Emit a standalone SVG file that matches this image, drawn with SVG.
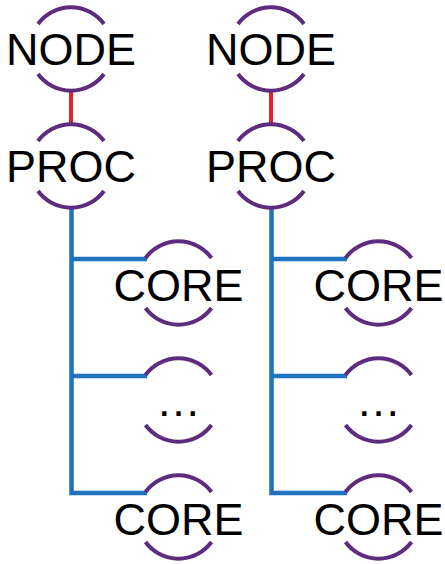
<svg xmlns="http://www.w3.org/2000/svg" width="445" height="564" viewBox="0 0 445 564">
  <defs>
    <!-- open ring: two arcs around a label, centred on 0,0 -->
    <g id="ring">
      <path d="M -33 -25 A 41 41 0 0 1 33 -25" />
      <path d="M -33 25 A 41 41 0 0 0 33 25" />
    </g>
  </defs>
  <style>
    .ring { fill: none; stroke: #5e2b7e; stroke-width: 4; }
    .lbl { font-family: "Liberation Sans", Arial, sans-serif; font-size: 45px; fill: #000; text-anchor: middle; }
    .link-red { stroke: #e8202a; stroke-width: 4; fill: none; }
    .link-blue { stroke: #1f72bd; stroke-width: 4.5; fill: none; stroke-linejoin: miter; }
  </style>
  <rect width="445" height="564" fill="#fff" />

  <g id="connectors">
    <line class="link-red" x1="71" y1="90" x2="71" y2="125" />
    <line class="link-red" x1="271" y1="90" x2="271" y2="125" />
    <path class="link-blue" d="M 71.5 207 V 493 H 147 M 71.5 259 H 147 M 71.5 376 H 147" />
    <path class="link-blue" d="M 271.5 207 V 493 H 347 M 271.5 259 H 347 M 271.5 376 H 347" />
  </g>

  <g id="node-a">
    <use href="#ring" class="ring" x="71" y="49" />
    <text class="lbl" x="71" y="65">NODE</text>
  </g>
  <g id="proc-a">
    <use href="#ring" class="ring" x="71" y="166" />
    <text class="lbl" x="71" y="182">PROC</text>
  </g>
  <g id="core-a1">
    <use href="#ring" class="ring" x="178.5" y="283" />
    <text class="lbl" x="178.5" y="301">CORE</text>
  </g>
  <g id="core-a2">
    <use href="#ring" class="ring" x="178.5" y="400" />
    <text class="lbl" x="178.5" y="416">…</text>
  </g>
  <g id="core-a3">
    <use href="#ring" class="ring" x="178.5" y="517" />
    <text class="lbl" x="178.5" y="535">CORE</text>
  </g>

  <g id="node-b">
    <use href="#ring" class="ring" x="271" y="49" />
    <text class="lbl" x="271" y="65">NODE</text>
  </g>
  <g id="proc-b">
    <use href="#ring" class="ring" x="271" y="166" />
    <text class="lbl" x="271" y="182">PROC</text>
  </g>
  <g id="core-b1">
    <use href="#ring" class="ring" x="378.5" y="283" />
    <text class="lbl" x="378.5" y="301">CORE</text>
  </g>
  <g id="core-b2">
    <use href="#ring" class="ring" x="378.5" y="400" />
    <text class="lbl" x="378.5" y="416">…</text>
  </g>
  <g id="core-b3">
    <use href="#ring" class="ring" x="378.5" y="517" />
    <text class="lbl" x="378.5" y="535">CORE</text>
  </g>
</svg>
